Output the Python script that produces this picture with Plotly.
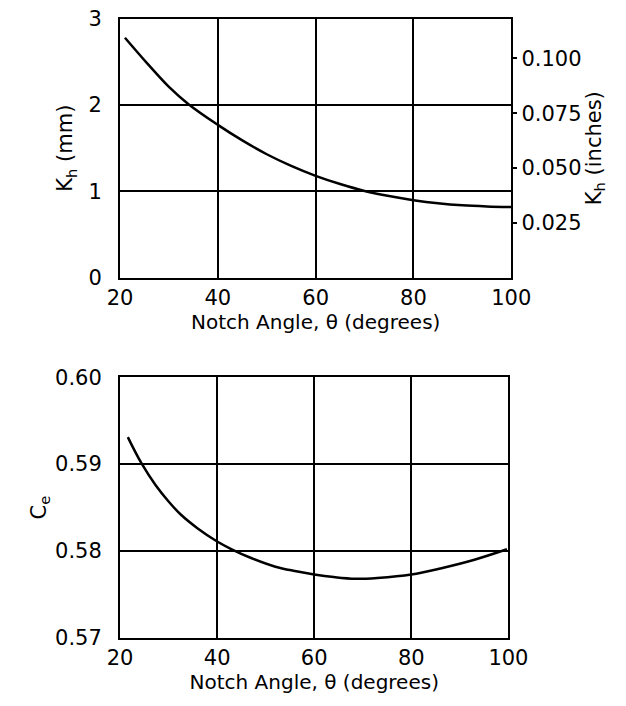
import plotly.graph_objects as go

# Top panel: K_h vs notch angle
angle_top = [21, 25.6, 30, 34, 40, 45, 50, 55, 60, 65, 70, 75, 80, 85, 90, 95, 100]
kh_mm = [2.78, 2.48, 2.21, 2.01, 1.77, 1.59, 1.43, 1.295, 1.18, 1.085, 1.005, 0.945, 0.898, 0.862, 0.838, 0.825, 0.818]

# Bottom panel: C_e vs notch angle
angle_bot = [21.6, 24.4, 27.3, 30, 32.5, 36, 40, 43, 47, 52, 56, 60, 64, 68.5, 73, 80, 86, 93, 99.7]
ce = [0.5931, 0.5901, 0.5876, 0.5857, 0.5842, 0.5826, 0.5811, 0.5802, 0.5792, 0.5782, 0.5777,
      0.5773, 0.5770, 0.5768, 0.5769, 0.5773, 0.5780, 0.5790, 0.5802]

x_ticks = [20, 40, 60, 80, 100]
kh_mm_ticks = [0, 1, 2, 3]
kh_in_ticks = [0.025, 0.050, 0.075, 0.100]
kh_in_labels = ["0.025", "0.050", "0.075", "0.100"]
ce_ticks = [0.57, 0.58, 0.59, 0.60]
ce_labels = ["0.57", "0.58", "0.59", "0.60"]
MM_PER_INCH = 25.4

FONT = dict(family="DejaVu Sans", size=21, color="black")
TFONT = dict(family="DejaVu Sans", size=20, color="black")
W, H = 626, 706

fig = go.Figure()
fig.add_trace(go.Scatter(x=angle_top, y=kh_mm, mode="lines", line=dict(color="black", width=2.5, shape="spline"),
                         xaxis="x", yaxis="y", showlegend=False, hoverinfo="skip"))
fig.add_trace(go.Scatter(x=angle_top, y=[v / MM_PER_INCH for v in kh_mm], mode="lines",
                         line=dict(color="rgba(0,0,0,0)", width=0), xaxis="x", yaxis="y3",
                         showlegend=False, hoverinfo="skip"))
fig.add_trace(go.Scatter(x=angle_bot, y=ce, mode="lines", line=dict(color="black", width=2.5, shape="spline"),
                         xaxis="x2", yaxis="y2", showlegend=False, hoverinfo="skip"))

axis_common = dict(showline=True, linecolor="black", linewidth=2, mirror=True,
                   showgrid=True, gridcolor="black", gridwidth=1.8, zeroline=False,
                   ticks="", tickfont=FONT)

top_x = [113 / W, 526 / W]
top_y = [1 - 275 / H, 1 - 7 / H]
bot_x = [113 / W, 523 / W]
bot_y = [1 - 648 / H, 1 - 378 / H]

fig.update_layout(
    width=W, height=H,
    margin=dict(l=0, r=0, t=0, b=0),
    paper_bgcolor="white", plot_bgcolor="white",
    font=FONT,
    xaxis=dict(domain=top_x, range=[20, 100], tickvals=x_ticks, anchor="y",
               title=dict(text="Notch Angle, θ (degrees)", font=TFONT, standoff=0),
               ticklabelstandoff=0, **axis_common),
    yaxis=dict(domain=top_y, range=[0, 3], tickvals=kh_mm_ticks, anchor="x",
               title=dict(text="K<sub>h</sub> (mm)", font=FONT, standoff=10),
               ticklabelstandoff=12, **axis_common),
    yaxis3=dict(overlaying="y", side="right", anchor="x", range=[0, 3 / MM_PER_INCH],
                tickvals=kh_in_ticks, ticktext=kh_in_labels, showgrid=False, zeroline=False,
                showline=False, ticks="outside", ticklen=5, tickwidth=1.5, tickcolor="black",
                tickfont=FONT, title=dict(text="K<sub>h</sub> (inches)", font=FONT, standoff=5)),
    xaxis2=dict(domain=bot_x, range=[20, 100], tickvals=x_ticks, anchor="y2",
                title=dict(text="Notch Angle, θ (degrees)", font=TFONT, standoff=0),
                ticklabelstandoff=0, **axis_common),
    yaxis2=dict(domain=bot_y, range=[0.57, 0.60], tickvals=ce_ticks, ticktext=ce_labels, anchor="x2",
                title=dict(text="C<sub>e</sub>", font=FONT, standoff=3),
                ticklabelstandoff=12, **axis_common),
)

fig.write_html("out.html")
